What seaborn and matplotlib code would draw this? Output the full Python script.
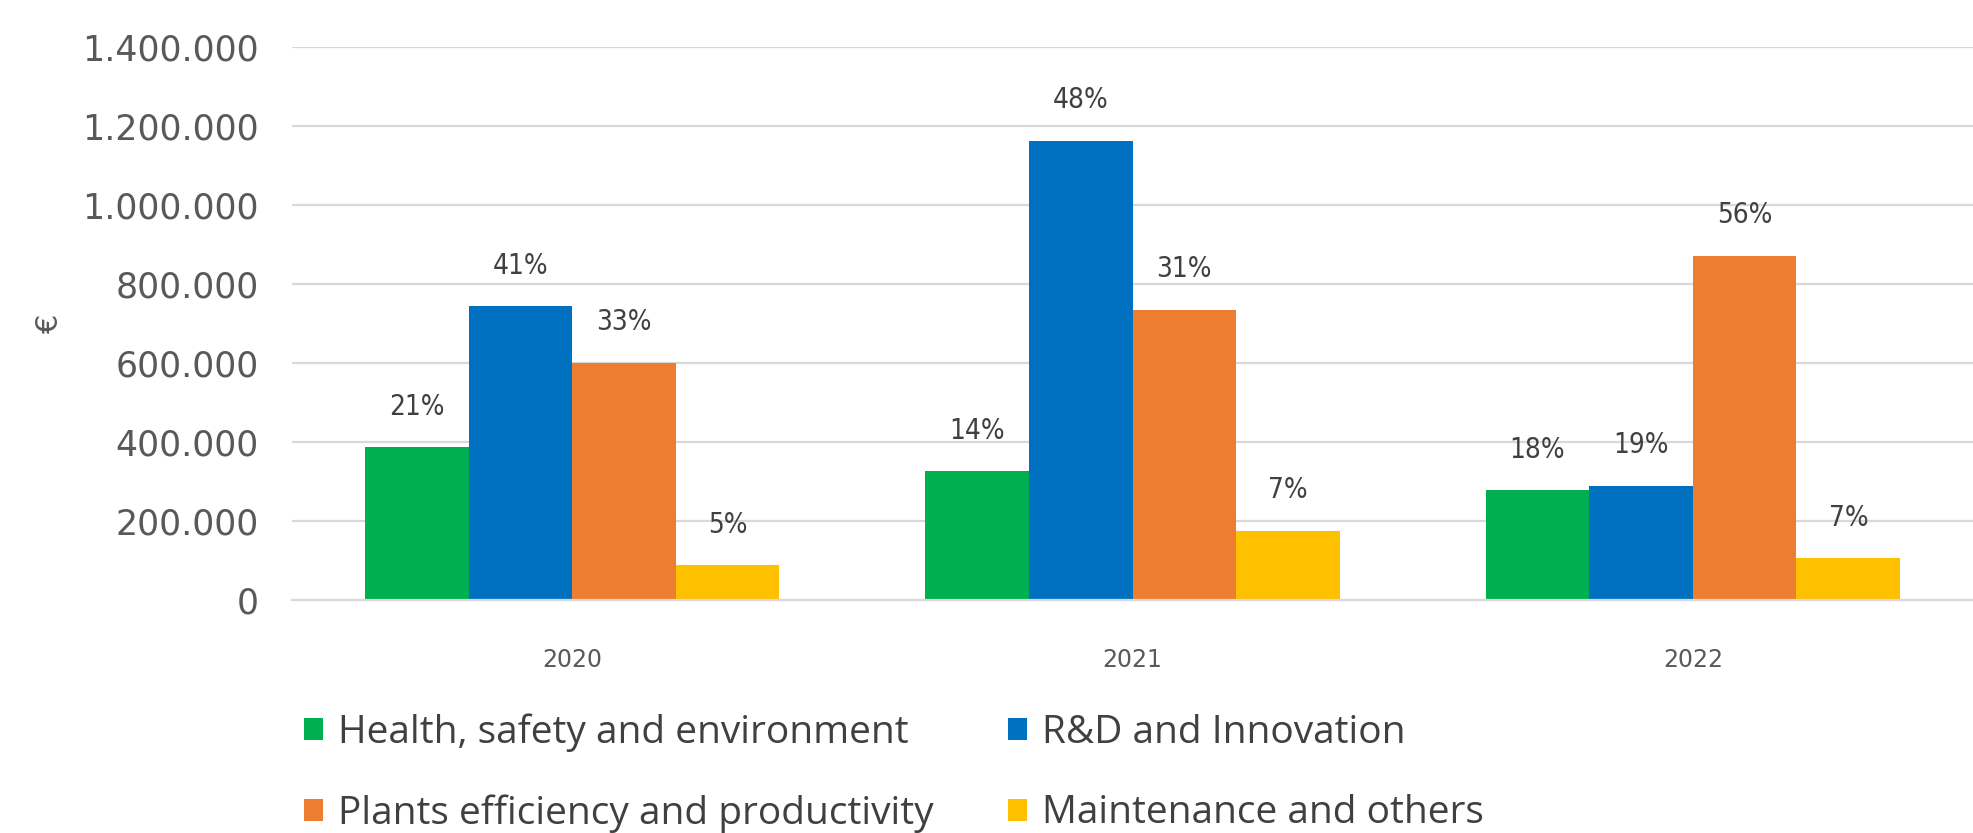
import matplotlib
matplotlib.use("Agg")
import matplotlib.pyplot as plt
import seaborn as sns
import pandas as pd
from matplotlib.patches import Patch

years = ["2020", "2021", "2022"]
categories = ["Health, safety and environment", "R&D and Innovation",
              "Plants efficiency and productivity", "Maintenance and others"]
health = [386000, 326000, 277000]
rnd = [744000, 1162000, 289000]
plants = [600000, 734000, 871000]
maint = [88000, 175000, 105000]
pct_labels = {
    "Health, safety and environment": ["21%", "14%", "18%"],
    "R&D and Innovation": ["41%", "48%", "19%"],
    "Plants efficiency and productivity": ["33%", "31%", "56%"],
    "Maintenance and others": ["5%", "7%", "7%"],
}
colors = ["#00B050", "#0070C0", "#ED7D31", "#FFC000"]
yticks = [0, 200000, 400000, 600000, 800000, 1000000, 1200000, 1400000]
ytick_labels = ["0", "200.000", "400.000", "600.000", "800.000",
                "1.000.000", "1.200.000", "1.400.000"]

rows = []
for cat, vals in zip(categories, [health, rnd, plants, maint]):
    for y, v, p in zip(years, vals, pct_labels[cat]):
        rows.append({"Year": y, "Category": cat, "Value": v, "Pct": p})
df = pd.DataFrame(rows)

sns.set_theme(style="white")
plt.rcParams['font.family'] = ['DejaVu Sans']

fig = plt.figure(figsize=(19.73, 8.33), dpi=100)
ax = fig.add_axes([0.148, 0.28, 0.852, 0.664])

sns.barplot(data=df, x="Year", y="Value", hue="Category", order=years,
            hue_order=categories, palette=colors, width=0.74,
            saturation=1, ax=ax, legend=False, linewidth=0)

for cont, cat in zip(ax.containers, categories):
    labs = pct_labels[cat]
    for bar, lab in zip(cont, labs):
        ax.annotate(lab, (bar.get_x() + bar.get_width() / 2, bar.get_height()),
                    xytext=(0, 29), textcoords="offset points",
                    ha="center", va="center", fontsize=20, color="#404040",
                    family="DejaVu Sans", fontstretch="condensed")

ax.set_ylim(0, 1400000)
ax.set_yticks(yticks)
ax.set_yticklabels(ytick_labels)
ax.grid(axis="y", color="#D9D9D9", linewidth=1.6)
ax.set_axisbelow(True)
for s in ["top", "right", "left"]:
    ax.spines[s].set_visible(False)
ax.spines["bottom"].set_color("#D9D9D9")
ax.spines["bottom"].set_linewidth(1.6)
ax.tick_params(axis="y", length=0, pad=24, labelsize=25, labelcolor="#595959")
ax.tick_params(axis="x", length=0, pad=35, labelsize=17, labelcolor="#595959")
ax.set_xlabel("")
ax.set_ylabel("€", fontsize=22, color="#595959", rotation=90)
ax.yaxis.set_label_coords(-0.1355, 0.5)

handles = [Patch(facecolor=c, edgecolor="none") for c in colors]
order = [0, 2, 1, 3]
fig.legend([handles[i] for i in order], [categories[i] for i in order],
           ncol=2, loc="center left", bbox_to_anchor=(0.154, 0.072),
           frameon=False, borderpad=0, borderaxespad=0,
           prop={"family": "Open Sans", "size": 28}, labelcolor="#404040",
           handlelength=0.5, handleheight=0.5, handletextpad=0.38,
           columnspacing=1.9, labelspacing=1.1)

fig.savefig("out.png", dpi=100)
